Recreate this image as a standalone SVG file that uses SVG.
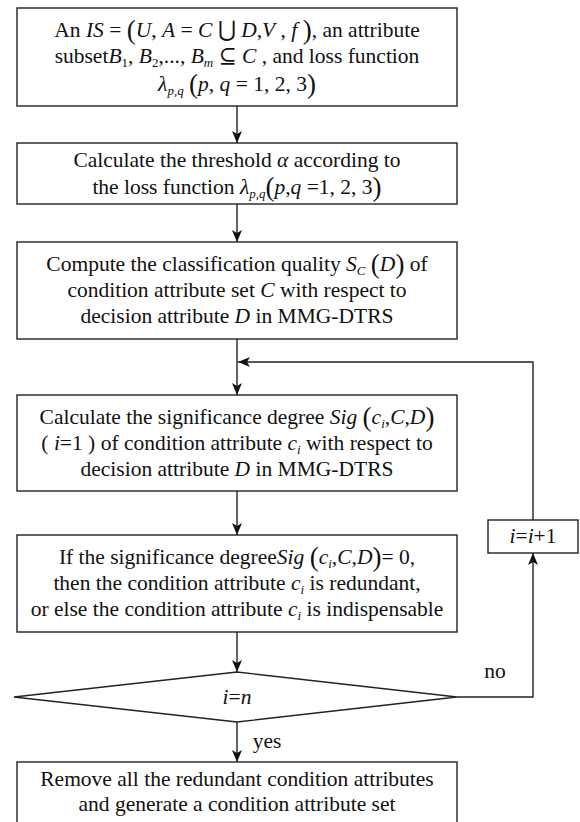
<svg xmlns="http://www.w3.org/2000/svg" width="580" height="822" viewBox="0 0 580 822" font-family="'Liberation Serif', 'DejaVu Serif', serif">
<defs>
<style>
.box{fill:#fff;stroke:#222;stroke-width:1.4}
.ln{fill:none;stroke:#222;stroke-width:1.4}
.t{font-family:'Liberation Serif','DejaVu Serif',serif;font-size:21.5px;fill:#111;text-anchor:middle}
.i{font-style:italic}
.s{font-size:13px}
.p{font-size:27px}
</style>
<marker id="ah" viewBox="0 0 12 10" refX="12" refY="5" markerWidth="12" markerHeight="10" markerUnits="userSpaceOnUse" orient="auto">
<path d="M0,0 L12,5 L0,10 L3,5 z" fill="#111"/>
</marker>
</defs>
<rect width="580" height="822" fill="#fff"/>

<g id="connectors">
<line class="ln" x1="237" y1="106" x2="237" y2="143" marker-end="url(#ah)"/>
<line class="ln" x1="237" y1="204" x2="237" y2="242" marker-end="url(#ah)"/>
<line class="ln" x1="237" y1="339" x2="237" y2="395" marker-end="url(#ah)"/>
<line class="ln" x1="237" y1="491" x2="237" y2="535" marker-end="url(#ah)"/>
<line class="ln" x1="237" y1="632" x2="237" y2="672" marker-end="url(#ah)"/>
<line class="ln" x1="237" y1="722" x2="237" y2="762" marker-end="url(#ah)"/>
<polyline class="ln" points="457,697 533,697 533,553" marker-end="url(#ah)"/>
<polyline class="ln" points="533,520 533,362 238,362" marker-end="url(#ah)"/>
<text class="t" x="495" y="678">no</text>
<text class="t" x="267" y="748">yes</text>
</g>

<g id="n1">
<rect class="box" x="17" y="8" width="440" height="98"/>
<text class="t" x="237" y="37">An <tspan class="i">IS</tspan> = <tspan class="p" dy="2">(</tspan><tspan class="i" dy="-2">U</tspan>, <tspan class="i">A</tspan> = <tspan class="i">C</tspan> ⋃ <tspan class="i">D</tspan>,<tspan class="i">V</tspan> , <tspan class="i">f</tspan> <tspan class="p" dy="2">)</tspan><tspan dy="-2">, an attribute</tspan></text>
<text class="t" x="237" y="63">subset<tspan class="i">B</tspan><tspan class="s" dy="4">1</tspan><tspan dy="-4">, </tspan><tspan class="i">B</tspan><tspan class="s" dy="4">2</tspan><tspan dy="-4">,..., </tspan><tspan class="i">B</tspan><tspan class="s i" dy="4">m</tspan><tspan dy="-4"> ⊆ </tspan><tspan class="i">C</tspan> , and loss function</text>
<text class="t" x="237" y="91"><tspan class="i">λ</tspan><tspan class="s i" dy="4">p,q</tspan><tspan dy="-4"> </tspan><tspan class="p" dy="2">(</tspan><tspan class="i" dy="-2">p</tspan>, <tspan class="i">q</tspan> = 1, 2, 3<tspan class="p" dy="2">)</tspan></text>
</g>

<g id="n2">
<rect class="box" x="17" y="143" width="440" height="61"/>
<text class="t" x="237" y="167">Calculate the threshold <tspan class="i">α</tspan> according to</text>
<text class="t" x="237" y="194">the loss function <tspan class="i">λ</tspan><tspan class="s i" dy="4">p,q</tspan><tspan class="p" dy="-2">(</tspan><tspan class="i" dy="-2">p</tspan>,<tspan class="i">q</tspan> =1, 2, 3<tspan class="p" dy="2">)</tspan></text>
</g>

<g id="n3">
<rect class="box" x="17" y="242" width="440" height="97"/>
<text class="t" x="237" y="271">Compute the classification quality <tspan class="i">S</tspan><tspan class="s i" dy="4">C</tspan><tspan dy="-4"> </tspan><tspan class="p" dy="2">(</tspan><tspan class="i" dy="-2">D</tspan><tspan class="p" dy="2">)</tspan><tspan dy="-2"> of</tspan></text>
<text class="t" x="237" y="297">condition attribute set <tspan class="i">C</tspan> with respect to</text>
<text class="t" x="237" y="323">decision attribute <tspan class="i">D</tspan> in MMG-DTRS</text>
</g>

<g id="n4">
<rect class="box" x="17" y="395" width="440" height="96"/>
<text class="t" x="237" y="424">Calculate the significance degree <tspan class="i">Sig</tspan> <tspan class="p" dy="2">(</tspan><tspan class="i" dy="-2">c</tspan><tspan class="s i" dy="4">i</tspan><tspan dy="-4">,</tspan><tspan class="i">C</tspan>,<tspan class="i">D</tspan><tspan class="p" dy="2">)</tspan></text>
<text class="t" x="237" y="450">( <tspan class="i">i</tspan>=1 ) of condition attribute <tspan class="i">c</tspan><tspan class="s i" dy="4">i</tspan><tspan dy="-4"> with respect to</tspan></text>
<text class="t" x="237" y="476">decision attribute <tspan class="i">D</tspan> in MMG-DTRS</text>
</g>

<g id="n5">
<rect class="box" x="17" y="535" width="440" height="97"/>
<text class="t" x="237" y="564">If the significance degree<tspan class="i">Sig</tspan> <tspan class="p" dy="2">(</tspan><tspan class="i" dy="-2">c</tspan><tspan class="s i" dy="4">i</tspan><tspan dy="-4">,</tspan><tspan class="i">C</tspan>,<tspan class="i">D</tspan><tspan class="p" dy="2">)</tspan><tspan dy="-2">= 0,</tspan></text>
<text class="t" x="237" y="590">then the condition attribute <tspan class="i">c</tspan><tspan class="s i" dy="4">i</tspan><tspan dy="-4"> is redundant,</tspan></text>
<text class="t" x="237" y="616">or else the condition attribute <tspan class="i">c</tspan><tspan class="s i" dy="4">i</tspan><tspan dy="-4"> is indispensable</tspan></text>
</g>

<g id="n6">
<polygon class="box" points="14,697 237,672 457,697 237,722"/>
<text class="t" x="237" y="704"><tspan class="i">i</tspan>=<tspan class="i">n</tspan></text>
</g>

<g id="n7">
<rect class="box" x="488" y="520" width="90" height="33"/>
<text class="t" x="533" y="543"><tspan class="i">i</tspan>=<tspan class="i">i</tspan>+1</text>
</g>

<g id="n8">
<rect class="box" x="17" y="762" width="440" height="80"/>
<text class="t" x="237" y="786">Remove all the redundant condition attributes</text>
<text class="t" x="237" y="811">and generate a condition attribute set</text>
</g>
</svg>
